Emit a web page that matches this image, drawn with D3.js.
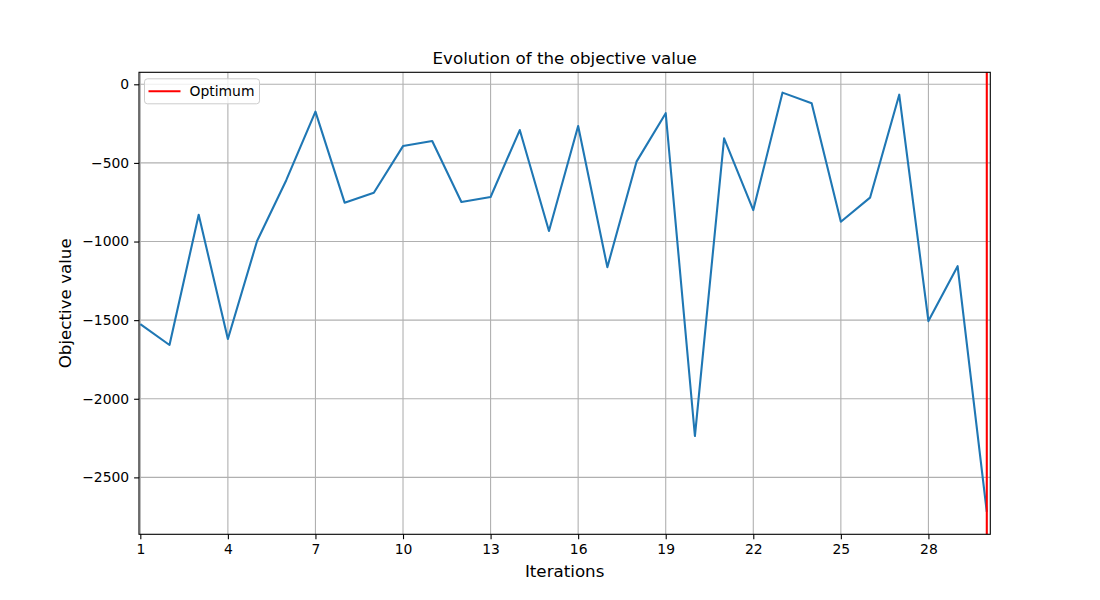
<!DOCTYPE html>
<html>
<head>
<meta charset="utf-8">
<script src="https://cdn.jsdelivr.net/npm/d3@7"></script>
<style>
  body { margin: 0; background: #fff; }
  text { font-family: "DejaVu Sans", sans-serif; }
</style>
</head>
<body>
<div id="chart"></div>
<script>
// objective value per iteration
const iterations = d3.range(1, 31);
const objective = [-1525, -1658, -830, -1620, -997, -610, -174, -753, -690, -393,
                   -361, -749, -717, -291, -933, -265, -1163, -492, -184, -2237,
                   -344, -800, -53, -121, -874, -721, -66, -1506, -1157, -2720];
const optimumIter = 30;
const xTicks = [1, 4, 7, 10, 13, 16, 19, 22, 25, 28];
const yTicks = [0, -500, -1000, -1500, -2000, -2500];

const W = 1100, H = 600;
const margin = { top: 72.3, right: 1100 - 990.3, bottom: 600 - 534.3, left: 139 };
const width = W - margin.left - margin.right,
      height = H - margin.top - margin.bottom;

const svg = d3.select("#chart").append("svg")
    .attr("width", W).attr("height", H);

const g = svg.append("g")
    .attr("transform", "translate(" + margin.left + "," + margin.top + ")");

const x = d3.scaleLinear().domain([0.955, 30.12]).range([0, width]);
const y = d3.scaleLinear().domain([-2862, 76.3]).range([height, 0]);

const fmt = d => d < 0 ? "\u2212" + Math.abs(d) : String(d);

// gridlines
g.append("g").selectAll("line").data(xTicks).enter().append("line")
    .attr("x1", d => x(d)).attr("x2", d => x(d))
    .attr("y1", 0).attr("y2", height)
    .attr("stroke", "#b0b0b0").attr("stroke-width", 1.1);
g.append("g").selectAll("line").data(yTicks).enter().append("line")
    .attr("y1", d => y(d)).attr("y2", d => y(d))
    .attr("x1", 0).attr("x2", width)
    .attr("stroke", "#b0b0b0").attr("stroke-width", 1.1);

// axes
const xAxis = g.append("g")
    .attr("transform", "translate(0," + height + ")")
    .call(d3.axisBottom(x).tickValues(xTicks).tickSize(4.9).tickPadding(4.9).tickSizeOuter(0));
const yAxis = g.append("g")
    .call(d3.axisLeft(y).tickValues(yTicks).tickFormat(fmt).tickSize(4.9).tickPadding(4.9).tickSizeOuter(0));
[xAxis, yAxis].forEach(a => {
    a.select(".domain").remove();
    a.selectAll("line").attr("stroke", "#000").attr("stroke-width", 1.1);
    a.selectAll("text").attr("fill", "#000")
        .style("font-family", "DejaVu Sans").style("font-size", "13.9px");
});

// the series
g.append("path")
    .datum(iterations.map((d, i) => [d, objective[i]]))
    .attr("fill", "none")
    .attr("stroke", "#1f77b4")
    .attr("stroke-width", 2.1)
    .attr("stroke-linejoin", "round")
    .attr("d", d3.line().x(d => x(d[0])).y(d => y(d[1])));

// optimum marker
g.append("line")
    .attr("x1", x(optimumIter)).attr("x2", x(optimumIter))
    .attr("y1", 0).attr("y2", height)
    .attr("stroke", "#ff0000").attr("stroke-width", 2.1);

// frame
g.append("rect")
    .attr("width", width).attr("height", height)
    .attr("fill", "none").attr("stroke", "#000").attr("stroke-width", 1.1);

// legend
const lg = g.append("g").attr("transform", "translate(5.5,6.5)");
lg.append("rect")
    .attr("width", 115).attr("height", 25).attr("rx", 3)
    .attr("fill", "#fff").attr("fill-opacity", 0.8)
    .attr("stroke", "#cccccc").attr("stroke-width", 1);
lg.append("line")
    .attr("x1", 4).attr("x2", 36).attr("y1", 12.5).attr("y2", 12.5)
    .attr("stroke", "#ff0000").attr("stroke-width", 2.1);
lg.append("text")
    .attr("x", 45).attr("y", 17.5)
    .style("font-size", "13.9px").text("Optimum");

// titles
svg.append("text")
    .attr("x", margin.left + width / 2).attr("y", 64)
    .attr("text-anchor", "middle").style("font-size", "16.7px")
    .text("Evolution of the objective value");
svg.append("text")
    .attr("x", margin.left + width / 2).attr("y", 577)
    .attr("text-anchor", "middle").style("font-size", "16.7px")
    .text("Iterations");
svg.append("text")
    .attr("transform", "translate(71," + (margin.top + height / 2) + ") rotate(-90)")
    .attr("text-anchor", "middle").style("font-size", "16.7px")
    .text("Objective value");
</script>
</body>
</html>
